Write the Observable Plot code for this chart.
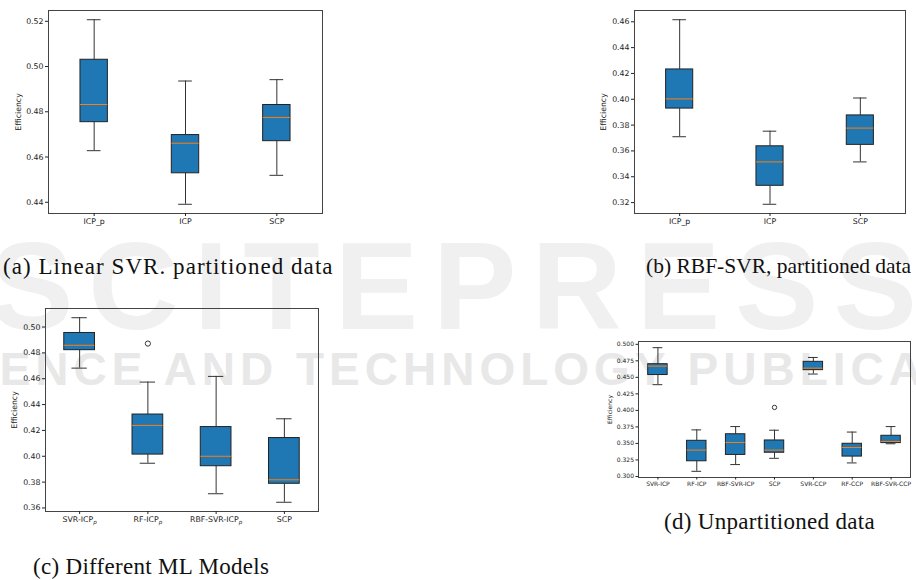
<!DOCTYPE html>
<html><head><meta charset="utf-8">
<script src="https://cdn.jsdelivr.net/npm/d3@7"></script>
<script src="https://cdn.jsdelivr.net/npm/@observablehq/plot@0.6"></script>
<style>
html,body{margin:0;padding:0;background:#fff;}
body{width:916px;height:580px;overflow:hidden;position:relative;}
.panel{position:absolute;}
.cap{position:absolute;font-family:"Liberation Serif";color:#111;white-space:nowrap;line-height:1;}
.wm{position:absolute;white-space:nowrap;font-family:"Liberation Sans";font-weight:bold;line-height:1;}
</style></head><body>
<div class="wm" style="left:-10px;top:223px;font-size:125px;letter-spacing:15px;color:#f0f0f0;">SCITEPRESS</div>
<div class="wm" style="left:-92px;top:346px;font-size:46px;letter-spacing:5px;color:#e8e8e8;">SCIENCE AND TECHNOLOGY PUBLICATIONS</div>
<div id="pa" class="panel" style="left:0;top:0"></div>
<div id="pb" class="panel" style="left:586px;top:0"></div>
<div id="pc" class="panel" style="left:0;top:298px"></div>
<div id="pd" class="panel" style="left:590px;top:331px"></div>
<div class="cap" style="left:3px;top:255px;font-size:23px;letter-spacing:1.05px">(a) Linear SVR. partitioned data</div>
<div class="cap" style="left:646px;top:256px;font-size:21.5px">(b) RBF-SVR, partitioned data</div>
<div class="cap" style="left:33px;top:555px;font-size:23px;letter-spacing:0.3px">(c) Different ML Models</div>
<div class="cap" style="left:664px;top:510px;font-size:23px;letter-spacing:0.3px">(d) Unpartitioned data</div>
<script>
// ---- (a) Linear SVR, partitioned data
const labelsA = ["ICP_p", "ICP", "SCP"];
const lowA  = [0.4628, 0.4391, 0.4519];
const q1A   = [0.4754, 0.4528, 0.4670];
const medA  = [0.4832, 0.4661, 0.4775];
const q3A   = [0.5030, 0.4697, 0.4830];
const highA = [0.5207, 0.4936, 0.4942];
const outA  = [];
const ticksA = [0.44, 0.46, 0.48, 0.50, 0.52];

// ---- (b) RBF-SVR, partitioned data
const labelsB = ["ICP_p", "ICP", "SCP"];
const lowB  = [0.3710, 0.3187, 0.3515];
const q1B   = [0.3928, 0.3330, 0.3647];
const medB  = [0.4003, 0.3515, 0.3777];
const q3B   = [0.4231, 0.3636, 0.3875];
const highB = [0.4616, 0.3753, 0.4010];
const outB  = [];
const ticksB = [0.32, 0.34, 0.36, 0.38, 0.40, 0.42, 0.44, 0.46];

// ---- (c) Different ML models
const labelsC = ["SVR-ICP_p", "RF-ICP_p", "RBF-SVR-ICP_p", "SCP"];
const lowC  = [0.4682, 0.3946, 0.3710, 0.3644];
const q1C   = [0.4821, 0.4013, 0.3923, 0.3787];
const medC  = [0.4859, 0.4239, 0.4000, 0.3818];
const q3C   = [0.4954, 0.4323, 0.4226, 0.4141];
const highC = [0.5072, 0.4574, 0.4618, 0.4290];
const outC  = [{label: "RF-ICP_p", value: 0.4872}];
const ticksC = [0.36, 0.38, 0.40, 0.42, 0.44, 0.46, 0.48, 0.50];

// ---- (d) Unpartitioned data
const labelsD = ["SVR-ICP", "RF-ICP", "RBF-SVR-ICP", "SCP", "SVR-CCP", "RF-CCP", "RBF-SVR-CCP"];
const lowD  = [0.4389, 0.3078, 0.3180, 0.3275, 0.4550, 0.3205, 0.3495];
const q1D   = [0.4535, 0.3230, 0.3326, 0.3359, 0.4609, 0.3301, 0.3505];
const medD  = [0.4670, 0.3399, 0.3515, 0.3399, 0.4639, 0.3439, 0.3530];
const q3D   = [0.4699, 0.3540, 0.3639, 0.3545, 0.4735, 0.3495, 0.3616];
const highD = [0.4949, 0.3705, 0.3755, 0.3700, 0.4801, 0.3672, 0.3755];
const outD  = [{label: "SCP", value: 0.4045}];
const ticksD = [0.300, 0.325, 0.350, 0.375, 0.400, 0.425, 0.450, 0.475, 0.500];

function boxPanel(o) {
  const n = o.labels.length;
  const rows = o.labels.map((l, i) => ({i: i + 1, label: l, low: o.low[i], q1: o.q1[i], med: o.med[i], q3: o.q3[i], high: o.high[i]}));
  const outs = o.outliers.map(d => ({i: o.labels.indexOf(d.label) + 1, value: d.value}));
  const all = o.low.concat(o.high, o.outliers.map(d => d.value));
  const lo = d3.min(all), hi = d3.max(all), pad = (hi - lo) * 0.05;
  const w = o.boxW;
  const edge = "#222", wh = "#333";
  const svg = Plot.plot({
    width: o.width, height: o.height,
    marginLeft: o.ml, marginRight: o.mr, marginTop: o.mt, marginBottom: o.mb,
    style: {background: "transparent", fontFamily: "DejaVu Sans", color: "#222", overflow: "visible"},
    x: {domain: [0.5, n + 0.5]},
    y: {domain: [lo - pad, hi + pad]},
    marks: [
      Plot.ruleX(rows, {x: "i", y1: "q3", y2: "high", stroke: wh, strokeWidth: 1}),
      Plot.ruleX(rows, {x: "i", y1: "low", y2: "q1", stroke: wh, strokeWidth: 1}),
      Plot.ruleY(rows, {y: "high", x1: d => d.i - w / 4, x2: d => d.i + w / 4, stroke: wh, strokeWidth: 1}),
      Plot.ruleY(rows, {y: "low", x1: d => d.i - w / 4, x2: d => d.i + w / 4, stroke: wh, strokeWidth: 1}),
      Plot.rect(rows, {x1: d => d.i - w / 2, x2: d => d.i + w / 2, y1: "q1", y2: "q3", fill: "#1f77b4", stroke: edge, strokeWidth: 1}),
      Plot.ruleY(rows, {y: "med", x1: d => d.i - w / 2, x2: d => d.i + w / 2, stroke: "#ff7f0e", strokeWidth: 1}),
      Plot.dot(outs, {x: "i", y: "value", r: o.r, stroke: "#222", fill: "none", strokeWidth: 0.9}),
      Plot.frame({stroke: "#444", strokeWidth: 1}),
      Plot.axisX(d3.range(1, n + 1), {tickFormat: i => o.labels[i - 1], tickSize: o.ts, tickPadding: 2, fontSize: o.fs, label: null}),
      Plot.axisY(o.ticks, {tickFormat: o.fmt, tickSize: o.ts, tickPadding: 2, fontSize: o.fs, label: "Efficiency", labelAnchor: "center", labelOffset: o.lo, labelArrow: "none"})
    ]
  });
  if (o.sub) {
    svg.querySelectorAll('g[aria-label="x-axis tick label"] text').forEach(t => {
      const s = t.textContent;
      if (s.includes("_")) {
        const [base, sb] = s.split("_");
        t.textContent = base;
        const ts = document.createElementNS("http://www.w3.org/2000/svg", "tspan");
        ts.setAttribute("font-style", "italic");
        ts.setAttribute("font-size", "0.72em");
        ts.setAttribute("dy", "0.35em");
        ts.textContent = sb;
        t.appendChild(ts);
      }
    });
  }
  document.getElementById(o.el).appendChild(svg);
}

const f2 = d3.format(".2f"), f3 = d3.format(".3f");
boxPanel({el: "pa", width: 330, height: 235, ml: 48, mr: 8, mt: 10, mb: 22, labels: labelsA, low: lowA, q1: q1A, med: medA, q3: q3A, high: highA, outliers: outA, ticks: ticksA, fmt: f2, fs: 7.8, ts: 3, boxW: 0.3, lo: 32.6, r: 2.6});
boxPanel({el: "pb", width: 330, height: 235, ml: 48, mr: 11, mt: 10, mb: 22, labels: labelsB, low: lowB, q1: q1B, med: medB, q3: q3B, high: highB, outliers: outB, ticks: ticksB, fmt: f2, fs: 7.8, ts: 3, boxW: 0.3, lo: 33.9, r: 2.6});
boxPanel({el: "pc", width: 330, height: 235, ml: 45, mr: 12, mt: 10, mb: 22, labels: labelsC, low: lowC, q1: q1C, med: medC, q3: q3C, high: highC, outliers: outC, ticks: ticksC, fmt: f2, fs: 7.8, ts: 3, boxW: 0.45, lo: 34.2, r: 2.6, sub: true});
boxPanel({el: "pd", width: 326, height: 165, ml: 48, mr: 6, mt: 10, mb: 19, labels: labelsD, low: lowD, q1: q1D, med: medD, q3: q3D, high: highD, outliers: outD, ticks: ticksD, fmt: f3, fs: 6, ts: 2.5, boxW: 0.5, lo: 31, r: 2.2});
</script>
</body></html>
